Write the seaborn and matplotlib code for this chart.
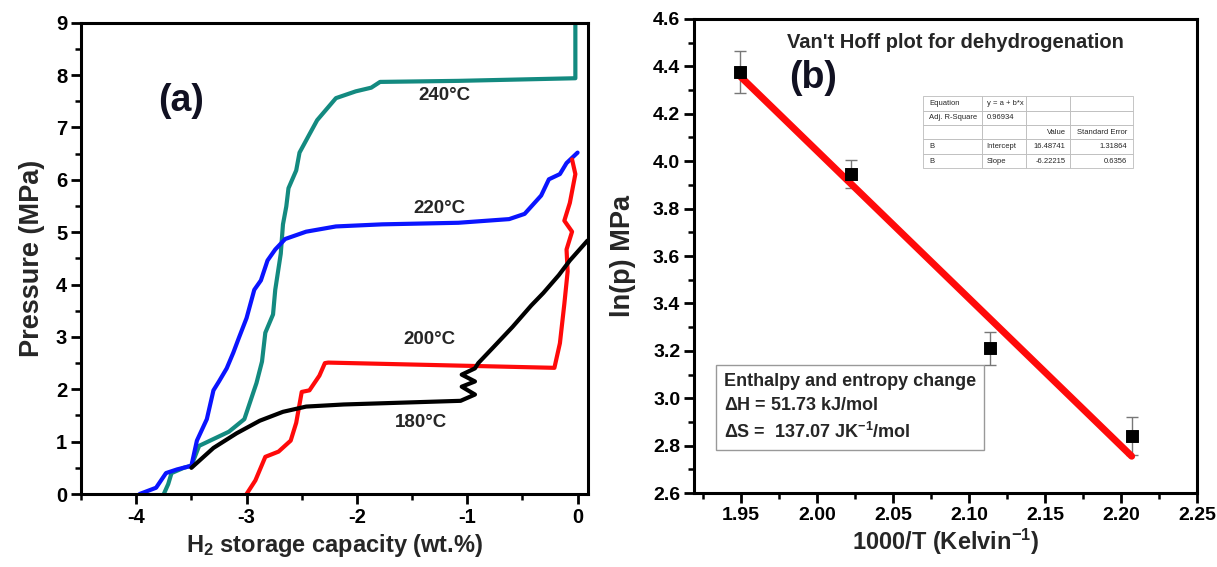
import numpy as np
import pandas as pd
import matplotlib
matplotlib.use("Agg")
import matplotlib.pyplot as plt
import seaborn as sns
from matplotlib.ticker import MultipleLocator, FormatStrFormatter

# ---------------- Data: panel (a) PCT curves ----------------
x_220 = [-3.97, -3.82, -3.73, -3.63, -3.50, -3.45, -3.36, -3.30, -3.25, -3.18, -3.12, -3.07, -3.00,
         -2.93, -2.87, -2.81, -2.74, -2.65, -2.46, -2.19, -1.77, -1.08, -0.62, -0.48, -0.39, -0.33,
         -0.26, -0.16, -0.10, 0.00]
y_220 = [0.00, 0.12, 0.40, 0.47, 0.54, 1.02, 1.43, 1.98, 2.15, 2.40, 2.70, 2.98, 3.36,
         3.90, 4.08, 4.46, 4.67, 4.87, 5.01, 5.11, 5.15, 5.18, 5.25, 5.35, 5.56, 5.70,
         6.01, 6.11, 6.32, 6.52]

x_240 = [-3.75, -3.71, -3.68, -3.57, -3.50, -3.43, -3.30, -3.16, -3.02, -2.91, -2.86, -2.83, -2.76,
         -2.74, -2.69, -2.67, -2.64, -2.62, -2.55, -2.52, -2.43, -2.36, -2.19, -2.01, -1.87, -1.79,
         -1.08, -0.02, -0.02]
y_240 = [0.00, 0.19, 0.40, 0.50, 0.54, 0.92, 1.05, 1.19, 1.43, 2.12, 2.53, 3.08, 3.43,
         3.90, 4.59, 5.15, 5.49, 5.84, 6.18, 6.52, 6.87, 7.14, 7.56, 7.69, 7.76, 7.87,
         7.89, 7.94, 9.00]

x_180 = [-3.50, -3.30, -3.09, -2.88, -2.67, -2.46, -2.12, -1.06, -0.93, -1.05, -0.93, -1.05, -0.93,
         -0.90, -0.76, -0.59, -0.42, -0.31, -0.17, -0.07, 0.09]
y_180 = [0.50, 0.88, 1.16, 1.40, 1.57, 1.67, 1.71, 1.78, 1.90, 2.05, 2.15, 2.28, 2.40,
         2.50, 2.81, 3.19, 3.60, 3.84, 4.18, 4.46, 4.84]

x_200 = [-3.00, -2.92, -2.83, -2.71, -2.60, -2.55, -2.50, -2.43, -2.34, -2.29, -2.26, -0.21, -0.16,
         -0.12, -0.09, -0.10, -0.05, -0.12, -0.07, -0.02, -0.05]
y_200 = [0.00, 0.26, 0.71, 0.81, 1.02, 1.36, 1.95, 1.98, 2.26, 2.50, 2.51, 2.41, 2.88,
         3.63, 4.25, 4.67, 5.01, 5.22, 5.56, 6.11, 6.39]

curve_labels = ["240°C", "220°C", "200°C", "180°C"]
label_x = [-1.21, -1.25, -1.34, -1.42]
label_y = [7.62, 5.45, 2.95, 1.36]

# ---------------- Data: panel (b) Van't Hoff ----------------
inv_T = [1.949, 2.022, 2.114, 2.207]
ln_p = [4.375, 3.945, 3.210, 2.840]
ln_p_err = [0.088, 0.060, 0.070, 0.080]
fit_intercept = 16.48741
fit_slope = -6.22215

table_rows = [["Equation", "y = a + b*x", "", ""],
              ["Adj. R-Square", "0.96934", "", ""],
              ["", "", "Value", "Standard Error"],
              ["B", "Intercept", "16.48741", "1.31864"],
              ["B", "Slope", "-6.22215", "0.6356"]]

# ---------------- Figure ----------------
sns.set_theme(style="ticks")
plt.rcParams['font.family'] = ['Liberation Sans', 'DejaVu Sans']
plt.rcParams['font.weight'] = 'bold'
plt.rcParams['mathtext.fontset'] = 'custom'
plt.rcParams['mathtext.rm'] = 'Liberation Sans:bold'
plt.rcParams['mathtext.default'] = 'rm'
plt.rcParams['axes.unicode_minus'] = False

fig = plt.figure(figsize=(12.17, 5.67), dpi=100)
axa = fig.add_axes([0.0666, 0.1287, 0.4166, 0.8312])
axb = fig.add_axes([0.5703, 0.1305, 0.4133, 0.8360])

def style_axes(ax, fs):
    for s in ax.spines.values():
        s.set_linewidth(2.2)
        s.set_color('black')
    ax.tick_params(which='major', direction='out', length=7, width=2, labelsize=fs,
                   colors='black', pad=3)
    ax.tick_params(which='minor', direction='out', length=4, width=1.8, colors='black')
    for lab in ax.get_xticklabels() + ax.get_yticklabels():
        lab.set_fontweight('bold')

# Panel (a)
curves = [(x_240, y_240, "#138a80"), (x_220, y_220, "#0a14ff"),
          (x_200, y_200, "#ff0a0a"), (x_180, y_180, "black")]
for xs, ys, col in curves:
    df = pd.DataFrame({"x": xs, "y": ys})
    sns.lineplot(data=df, x="x", y="y", sort=False, estimator=None, color=col,
                 linewidth=3.0, ax=axa)
axa.set_xlim(-4.5, 0.095)
axa.set_ylim(0, 9)
axa.xaxis.set_major_locator(MultipleLocator(1))
axa.xaxis.set_minor_locator(MultipleLocator(0.5))
axa.yaxis.set_major_locator(MultipleLocator(1))
axa.yaxis.set_minor_locator(MultipleLocator(0.5))
axa.set_xlabel("H$_2$ storage capacity (wt.%)", fontsize=17, fontweight='bold', labelpad=4)
axa.set_ylabel("Pressure (MPa)", fontsize=19.5, fontweight='bold', labelpad=8)
style_axes(axa, 14.5)
for t, lx, ly in zip(curve_labels, label_x, label_y):
    axa.text(lx, ly, t, fontsize=13.5, fontweight='bold', ha='center', va='center')
axa.text(-3.59, 7.5, "(a)", fontsize=27, fontweight='bold', ha='center', va='center',
         color='#111122')

# Panel (b)
axb.errorbar(inv_T, ln_p, yerr=ln_p_err, fmt='none', ecolor='#777777', elinewidth=1,
             capsize=4, capthick=1, zorder=2)
xfit = np.array([min(inv_T), max(inv_T)])
sns.lineplot(x=xfit, y=fit_intercept + fit_slope * xfit, color='#ff0a0a', linewidth=5,
             ax=axb, zorder=3)
sns.scatterplot(x=inv_T, y=ln_p, marker='s', s=70, color='black', edgecolor='black',
                ax=axb, zorder=4)
axb.set_xlim(1.919, 2.25)
axb.set_ylim(2.6, 4.6)
axb.xaxis.set_major_locator(MultipleLocator(0.05))
axb.xaxis.set_minor_locator(MultipleLocator(0.025))
axb.yaxis.set_major_locator(MultipleLocator(0.2))
axb.yaxis.set_minor_locator(MultipleLocator(0.1))
axb.xaxis.set_major_formatter(FormatStrFormatter('%.2f'))
axb.yaxis.set_major_formatter(FormatStrFormatter('%.1f'))
axb.set_xlabel("1000/T (Kelvin$^{-1}$)", fontsize=17, fontweight='bold', labelpad=2)
axb.set_ylabel("ln(p) MPa", fontsize=19.5, fontweight='bold', labelpad=12)
style_axes(axb, 14)
axb.text(2.091, 4.50, "Van't Hoff plot for dehydrogenation", fontsize=14.5, fontweight='bold',
         ha='center', va='center')
axb.text(1.997, 4.35, "(b)", fontsize=27, fontweight='bold', ha='center', va='center',
         color='#111122')

tbl = axb.table(cellText=table_rows, cellLoc='left',
                bbox=[0.456, 0.685, 0.417, 0.152], colWidths=[0.28, 0.21, 0.21, 0.30])
tbl.auto_set_font_size(False)
for (r, c), cell in tbl.get_celld().items():
    cell.set_edgecolor('#bbbbbb')
    cell.set_linewidth(0.6)
    cell.get_text().set_fontsize(5.5)
    cell.get_text().set_fontweight('normal')
    if r >= 2 and c >= 2:
        cell.get_text().set_ha('right')
        cell._loc = 'right'

box_txt = ("Enthalpy and entropy change\n"
           "$\\Delta$H = 51.73 kJ/mol\n"
           "$\\Delta$S =  137.07 JK$^{-1}$/mol")
axb.text(0.06, 0.18, box_txt, transform=axb.transAxes, fontsize=13, fontweight='bold',
         ha='left', va='center', linespacing=1.5,
         bbox=dict(boxstyle='square,pad=0.45', facecolor='white', edgecolor='#999999',
                   linewidth=1))

fig.savefig("out.png", dpi=100)
